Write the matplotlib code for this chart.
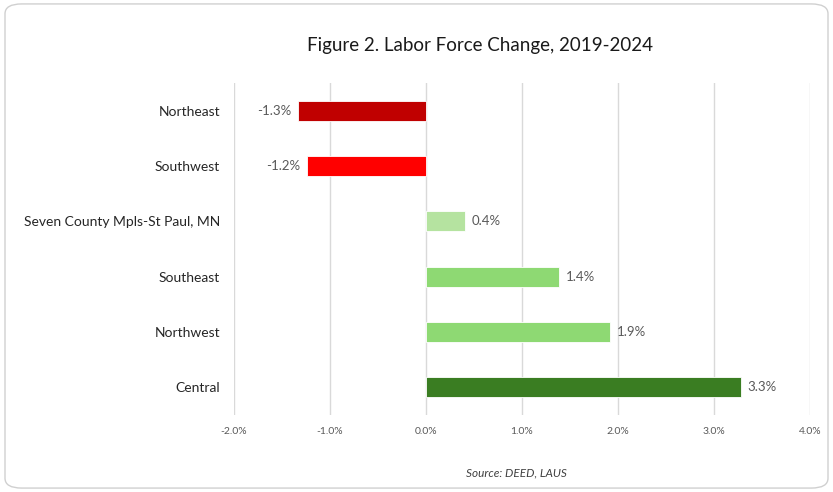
import matplotlib
matplotlib.use("Agg")
import matplotlib.pyplot as plt
from matplotlib.patches import FancyBboxPatch

# Data
regions = ["Northeast", "Southwest", "Seven County Mpls-St Paul, MN",
           "Southeast", "Northwest", "Central"]
change = [-1.33, -1.24, 0.41, 1.39, 1.92, 3.28]
labels = ["-1.3%", "-1.2%", "0.4%", "1.4%", "1.9%", "3.3%"]
colors = ["#C00000", "#FF0000", "#B5E3A0", "#8ED973", "#8ED973", "#3A7D22"]
ticks = [-2, -1, 0, 1, 2, 3, 4]

plt.rcParams["font.family"] = ["Lato", "DejaVu Sans"]

fig = plt.figure(figsize=(8.33, 4.92), dpi=100)
ax = fig.add_axes([0.2809, 0.1575, 0.6915, 0.6728])

# rounded frame around the chart
frame = FancyBboxPatch((0.006, 0.008), 0.988, 0.984,
                       boxstyle="round,pad=0,rounding_size=0.02",
                       transform=fig.transFigure, facecolor="none",
                       edgecolor="#D0D0D0", linewidth=1.0)
fig.patches.append(frame)

y = list(range(len(regions)))
ax.barh(y, change, height=0.36, color=colors, edgecolor="white",
        linewidth=0.6, zorder=3)

for yi, v, lab in zip(y, change, labels):
    if v < 0:
        ax.text(v - 0.07, yi, lab, ha="right", va="center",
                fontsize=9.5, color="#595959")
    else:
        ax.text(v + 0.07, yi, lab, ha="left", va="center",
                fontsize=9.5, color="#595959")

ax.set_xlim(-2, 4)
ax.set_ylim(len(regions) - 0.5, -0.5)
ax.set_xticks(ticks)
ax.set_xticklabels([f"{t:.1f}%" for t in ticks], fontsize=7.5, color="#595959")
ax.set_yticks(y)
ax.set_yticklabels(regions, fontsize=10, color="#262626")
ax.tick_params(axis="x", length=0, pad=9)
ax.tick_params(axis="y", length=0, pad=10)
ax.grid(axis="x", color="#D9D9D9", linewidth=1, zorder=0)
for s in ax.spines.values():
    s.set_visible(False)

fig.text(0.576, 0.908, "Figure 2. Labor Force Change, 2019-2024",
         ha="center", va="center", fontsize=13.5, color="#1a1a1a")
fig.text(0.62, 0.038, "Source: DEED, LAUS", ha="center", va="center",
         fontsize=8.5, style="italic", color="#404040")

fig.savefig("out.png", dpi=100)
